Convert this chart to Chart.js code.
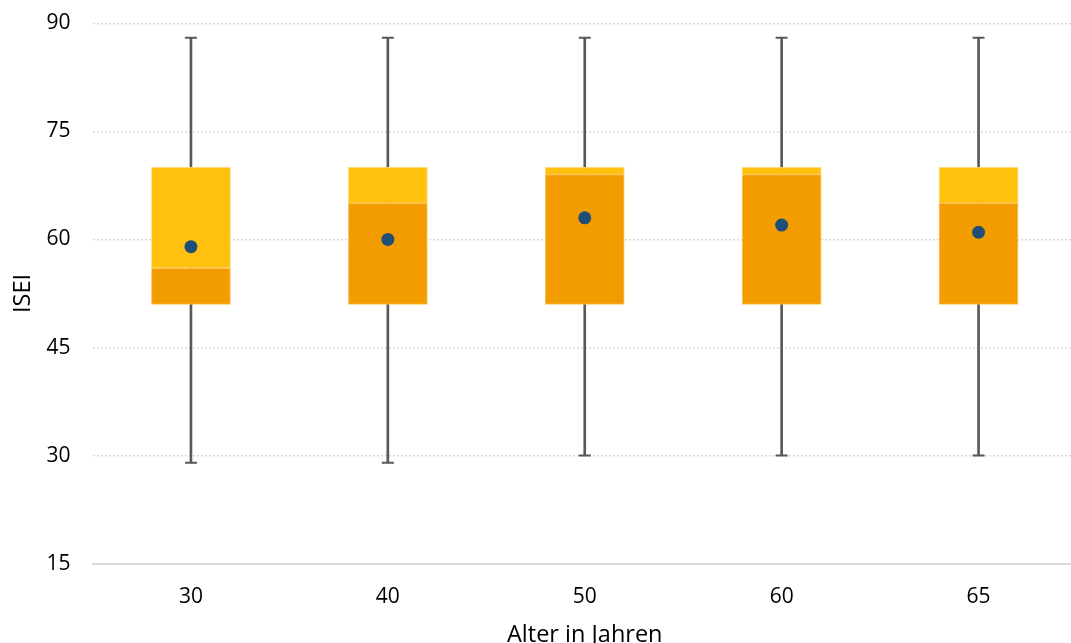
<!DOCTYPE html>
<html>
<head>
<meta charset="utf-8">
<script src="https://cdn.jsdelivr.net/npm/chart.js@4/dist/chart.umd.min.js"></script>
<style>
  html, body { margin: 0; padding: 0; background: #ffffff; overflow: hidden; }
  #wrap { position: relative; width: 1078px; height: 643px; }
</style>
</head>
<body>
<div id="wrap"><canvas id="c"></canvas></div>
<script>
const categories = ['30', '40', '50', '60', '65'];
const whiskerLow = [29, 29, 30, 30, 30];
const q1 = [51, 51, 51, 51, 51];
const median = [56, 65, 69, 69, 65];
const q3 = [70, 70, 70, 70, 70];
const whiskerHigh = [88, 88, 88, 88, 88];
const meanValues = [59, 60, 63, 62, 61];
const yTicks = [15, 30, 45, 60, 75, 90];

const FONT = 'Open Sans';
const FS = 21;
const TFS = 23.5;

const whiskerRange = whiskerLow.map((v, i) => [v, whiskerHigh[i]]);
const lowerBox = q1.map((v, i) => [v, median[i]]);
const upperBox = median.map((v, i) => [v, q3[i]]);

new Chart(document.getElementById('c'), {
  data: {
    labels: categories,
    datasets: [
      { type: 'line', label: 'mean', data: meanValues, showLine: false,
        pointRadius: 6.5, pointBackgroundColor: '#1F4E79', pointBorderColor: '#1F4E79',
        pointBorderWidth: 0, order: 0 },
      { type: 'line', label: 'capHigh', data: whiskerHigh, showLine: false,
        pointStyle: 'line', pointRadius: 6, pointBorderColor: '#595959', pointBorderWidth: 2, order: 3 },
      { type: 'line', label: 'capLow', data: whiskerLow, showLine: false,
        pointStyle: 'line', pointRadius: 6, pointBorderColor: '#595959', pointBorderWidth: 2, order: 3 },
      { type: 'bar', label: 'lower', data: lowerBox, backgroundColor: '#F39C00',
        borderColor: 'rgba(250,190,80,0.9)', borderWidth: 1, borderSkipped: false,
        barThickness: 79, grouped: false, order: 1 },
      { type: 'bar', label: 'upper', data: upperBox, backgroundColor: '#FFC10E',
        borderColor: 'rgba(255,214,110,0.9)', borderWidth: 1, borderSkipped: false,
        barThickness: 79, grouped: false, order: 1 },
      { type: 'bar', label: 'whisker', data: whiskerRange, backgroundColor: '#595959',
        borderWidth: 0, barThickness: 2, grouped: false, order: 4 }
    ]
  },
  options: {
    responsive: true,
    maintainAspectRatio: false,
    animation: false,
    layout: { autoPadding: false, padding: { top: 23.3, right: 1, bottom: 0, left: 0 } },
    plugins: { legend: { display: false }, tooltip: { enabled: false } },
    scales: {
      x: {
        grid: { display: false },
        border: { display: true, color: '#D9D9D9', width: 2 },
        ticks: { color: '#000000', font: { family: FONT, size: FS }, padding: 13 },
        title: { display: true, text: 'Alter in Jahren', color: '#000000',
          font: { family: FONT, size: TFS, lineHeight: 1.0 }, padding: { top: 0, bottom: -4 } },
        afterFit: (s) => { s.height = 79.3; s.paddingLeft = 0; s.paddingRight = 0; }
      },
      y: {
        min: 15, max: 90,
        afterBuildTicks: (s) => { s.ticks = yTicks.map(v => ({ value: v })); },
        grid: { color: '#D9D9D9', lineWidth: 1.5, drawTicks: false },
        border: { display: false, dash: [2, 2] },
        ticks: { color: '#000000', font: { family: FONT, size: FS }, padding: 22 },
        title: { display: true, text: 'ISEI', color: '#000000',
          font: { family: FONT, size: TFS, lineHeight: 1.2 }, padding: { top: 9, bottom: 0 } },
        afterFit: (s) => { s.width = 92.5; s.paddingTop = 0; s.paddingBottom = 0; }
      }
    }
  }
});
</script>
</body>
</html>
